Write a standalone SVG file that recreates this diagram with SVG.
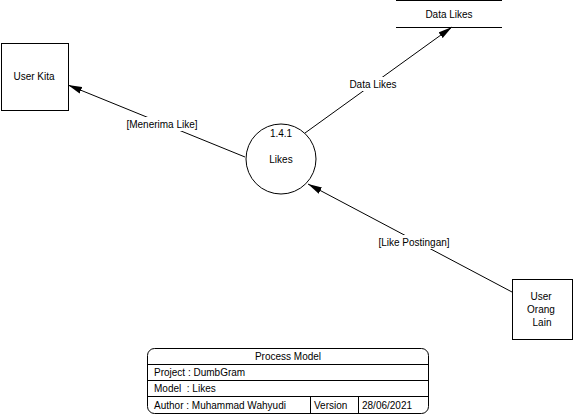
<svg xmlns="http://www.w3.org/2000/svg" width="573" height="416" viewBox="0 0 573 416">
<style>
text{font-family:"Liberation Sans",Arial,sans-serif;font-size:10px;fill:#000;white-space:pre}
.c{text-anchor:middle}
.s{fill:#fff;stroke:#000;stroke-width:1}
.ln{stroke:#000;stroke-width:1;fill:none}
.lb{fill:#fff;stroke:none}
</style>
<defs>
<marker id="ah" viewBox="0 0 14 8" refX="14" refY="4" markerWidth="14" markerHeight="8" markerUnits="userSpaceOnUse" orient="auto">
<path d="M0,0.5 L14,4 L0,7.5 Z" fill="#000"/>
</marker>
</defs>
<rect width="573" height="416" fill="#fff"/>
<g id="connectors">
<line class="ln" x1="245" y1="157" x2="68" y2="85" marker-end="url(#ah)"/>
<rect class="lb" x="120" y="117" width="84" height="14"/>
<text class="c" x="162" y="128">[Menerima Like]</text>
<line class="ln" x1="305" y1="133" x2="452" y2="27" marker-end="url(#ah)"/>
<rect class="lb" x="346" y="77" width="54" height="14"/>
<text class="c" x="373" y="88">Data Likes</text>
<line class="ln" x1="512" y1="292" x2="308" y2="184" marker-end="url(#ah)"/>
<rect class="lb" x="374" y="235" width="80" height="14"/>
<text class="c" x="414" y="246">[Like Postingan]</text>
</g>
<g id="user-kita">
<rect class="s" x="1.5" y="43.5" width="67" height="67"/>
<text class="c" x="34" y="80">User Kita</text>
</g>
<g id="process-likes">
<circle class="s" cx="281" cy="159" r="35"/>
<text class="c" x="281" y="137">1.4.1</text>
<text class="c" x="281" y="163">Likes</text>
</g>
<g id="data-likes">
<line class="ln" x1="396" y1="0.5" x2="502" y2="0.5"/>
<line class="ln" x1="396" y1="27.5" x2="502" y2="27.5"/>
<text class="c" x="449" y="18">Data Likes</text>
</g>
<g id="user-orang-lain">
<rect class="s" x="512.5" y="279.5" width="60" height="60"/>
<text class="c" x="541" y="300">User</text>
<text class="c" x="541" y="313">Orang</text>
<text class="c" x="542" y="326">Lain</text>
</g>
<g id="title-block">
<rect class="s" x="147.5" y="348.5" width="281" height="65" rx="7" ry="7"/>
<line class="ln" x1="147.5" y1="364.5" x2="428.5" y2="364.5"/>
<line class="ln" x1="147.5" y1="380.5" x2="428.5" y2="380.5"/>
<line class="ln" x1="147.5" y1="396.5" x2="428.5" y2="396.5"/>
<line class="ln" x1="310.5" y1="396.5" x2="310.5" y2="413.5"/>
<line class="ln" x1="358.5" y1="396.5" x2="358.5" y2="413.5"/>
<text class="c" x="288" y="360">Process Model</text>
<text x="154" y="376">Project : DumbGram</text>
<text x="154" y="392" xml:space="preserve">Model  : Likes</text>
<text x="154" y="409">Author : Muhammad Wahyudi</text>
<text x="314" y="409">Version</text>
<text x="362" y="409">28/06/2021</text>
</g>
</svg>
